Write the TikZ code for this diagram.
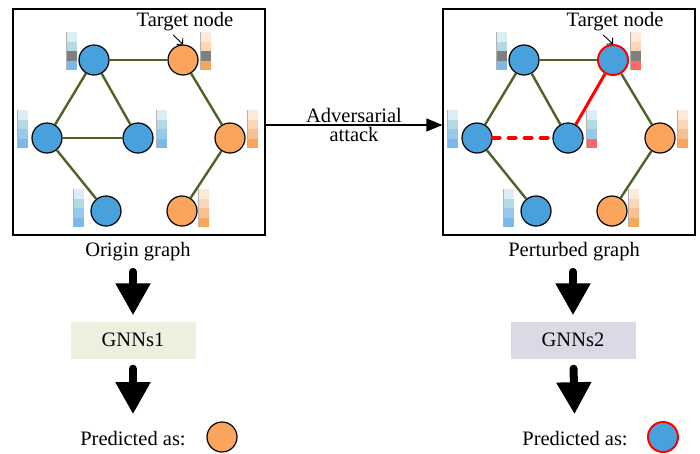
\documentclass[tikz,border=0pt]{standalone}
\usepackage{fontspec}
\setmainfont{Liberation Serif}
\usepackage{xcolor}
\usetikzlibrary{arrows.meta,positioning}

\definecolor{nodeblue}{HTML}{48A0DC}
\definecolor{nodeorange}{HTML}{FBA55C}
\definecolor{edgegreen}{HTML}{4F6228}
\definecolor{gnnone}{HTML}{EBF1DE}
\definecolor{gnntwo}{HTML}{DDD8E6}
\definecolor{bluea}{HTML}{DAEEF3}
\definecolor{blueb}{HTML}{B3DAE3}
\definecolor{bluec}{HTML}{98C8EC}
\definecolor{blued}{HTML}{7DB9E8}
\definecolor{orangea}{HTML}{FDE9D7}
\definecolor{orangeb}{HTML}{FCD5B4}
\definecolor{orangec}{HTML}{FBC08F}
\definecolor{oranged}{HTML}{F9A65A}
\definecolor{featgray}{HTML}{808080}
\definecolor{featred}{HTML}{FF6666}

% feature bar: x, y (top), four colours from top to bottom
\newcommand{\featbar}[6]{%
    \fill[#3] (#1,#2) rectangle ++(11,9.5);
    \fill[#4] (#1,#2+9.5) rectangle ++(11,9.5);
    \fill[#5] (#1,#2+19) rectangle ++(11,9.5);
    \fill[#6] (#1,#2+28.5) rectangle ++(11,9.5);
    \draw[gray!60, line width=1pt] (#1,#2) -- ++(0,38);
}

\begin{document}
\begin{tikzpicture}[
    x=1pt, y=-1pt,
    font=\fontsize{20.5}{24}\selectfont,
    gnode/.style={circle, draw, minimum size=30pt, inner sep=0pt, line width=1.2pt},
    graphbox/.style={draw, line width=1.2pt, minimum width=252pt, minimum height=226pt, inner sep=0pt},
    edge/.style={draw=edgegreen, line width=2.4pt},
    gnnbox/.style={minimum width=125pt, minimum height=37pt, inner sep=0pt},
    bigarrow/.style={line width=8pt, line cap=round, -{Triangle[length=32pt,width=33pt]}},
    pointer/.style={line width=0.9pt, -{Straight Barb[length=4pt,width=9pt]}}
]
    \useasboundingbox (0,0) rectangle (700,453);

    % Origin graph
    \node[graphbox] (org) at (139,122) {};
    \node[gnode, fill=nodeblue] (a1) at (94,60) {};
    \node[gnode, fill=nodeorange] (a2) at (183,60) {};
    \node[gnode, fill=nodeblue] (a3) at (47,138) {};
    \node[gnode, fill=nodeblue] (a4) at (138,138) {};
    \node[gnode, fill=nodeorange] (a5) at (230,138) {};
    \node[gnode, fill=nodeblue] (a6) at (106,211) {};
    \node[gnode, fill=nodeorange] (a7) at (182,211) {};
    \draw[edge] (a1) -- (a2);
    \draw[edge] (a1) -- (a3);
    \draw[edge] (a1) -- (a4);
    \draw[edge] (a3) -- (a4);
    \draw[edge] (a3) -- (a6);
    \draw[edge] (a2) -- (a5);
    \draw[edge] (a5) -- (a7);
    \featbar{66}{32}{bluea}{blueb}{featgray}{blued}
    \featbar{200}{32}{orangea}{orangeb}{featgray}{oranged}
    \featbar{17}{110}{bluea}{blueb}{bluec}{blued}
    \featbar{156}{110}{bluea}{blueb}{bluec}{blued}
    \featbar{247}{110}{orangea}{orangeb}{orangec}{oranged}
    \featbar{73}{189}{bluea}{blueb}{bluec}{blued}
    \featbar{198}{189}{orangea}{orangeb}{orangec}{oranged}
    \node (tgta) at (185,22) {Target node};
    \draw[pointer] ([xshift=-12pt]tgta.south) -- (a2.north);

    % Perturbed graph
    \node[graphbox] (per) at (569,122) {};
    \node[gnode, fill=nodeblue] (b1) at (524,60) {};
    \node[gnode, fill=nodeblue, draw=red, line width=2pt] (b2) at (613,60) {};
    \node[gnode, fill=nodeblue] (b3) at (477,138) {};
    \node[gnode, fill=nodeblue] (b4) at (568,138) {};
    \node[gnode, fill=nodeorange] (b5) at (660,138) {};
    \node[gnode, fill=nodeblue] (b6) at (536,211) {};
    \node[gnode, fill=nodeorange] (b7) at (612,211) {};
    \draw[edge] (b1) -- (b2);
    \draw[edge] (b1) -- (b3);
    \draw[edge] (b1) -- (b4);
    \draw[red, line width=4pt, line cap=round, dash pattern=on 7pt off 9pt] (b3) -- (b4);
    \draw[red, line width=3pt] (b2) -- (b4);
    \draw[edge] (b3) -- (b6);
    \draw[edge] (b2) -- (b5);
    \draw[edge] (b5) -- (b7);
    \featbar{496}{32}{bluea}{blueb}{featgray}{blued}
    \featbar{630}{32}{orangea}{orangeb}{featgray}{featred}
    \featbar{447}{110}{bluea}{blueb}{bluec}{blued}
    \featbar{586}{110}{bluea}{blueb}{bluec}{featred}
    \featbar{677}{110}{orangea}{orangeb}{orangec}{oranged}
    \featbar{503}{189}{bluea}{blueb}{bluec}{blued}
    \featbar{628}{189}{orangea}{orangeb}{orangec}{oranged}
    \node (tgtb) at (615,22) {Target node};
    \draw[pointer] ([xshift=-12pt]tgtb.south) -- (b2.north);

    % Attack
    \draw[line width=1.2pt, -{Triangle[length=16pt,width=13pt]}] ([yshift=-3pt]org.east) -- node[above, inner sep=2pt] {Adversarial} node[below, inner sep=2pt] {attack} ([yshift=-3pt]per.west);

    % Left pipeline
    \node (capa) at (138,252) {Origin graph};
    \node[gnnbox, fill=gnnone] (gnna) at (133,340) {GNNs1};
    \node (preda) at (133,439) {Predicted as:};
    \node[gnode, fill=nodeorange] (resa) at (222,437) {};
    \draw[bigarrow, shorten <=7pt, shorten >=6pt] (capa.south -| gnna) -- (gnna);
    \draw[bigarrow, shorten <=10pt, shorten >=14pt] (gnna) -- (preda);

    % Right pipeline
    \node (capb) at (574,252) {Perturbed graph};
    \node[gnnbox, fill=gnntwo] (gnnb) at (573,340) {GNNs2};
    \node (predb) at (575,439) {Predicted as:};
    \node[gnode, fill=nodeblue, draw=red, line width=2pt] (resb) at (663,437) {};
    \draw[bigarrow, shorten <=7pt, shorten >=6pt] (capb.south -| gnnb) -- (gnnb);
    \draw[bigarrow, shorten <=10pt, shorten >=14pt] (gnnb) -- (predb);
\end{tikzpicture}
\end{document}
